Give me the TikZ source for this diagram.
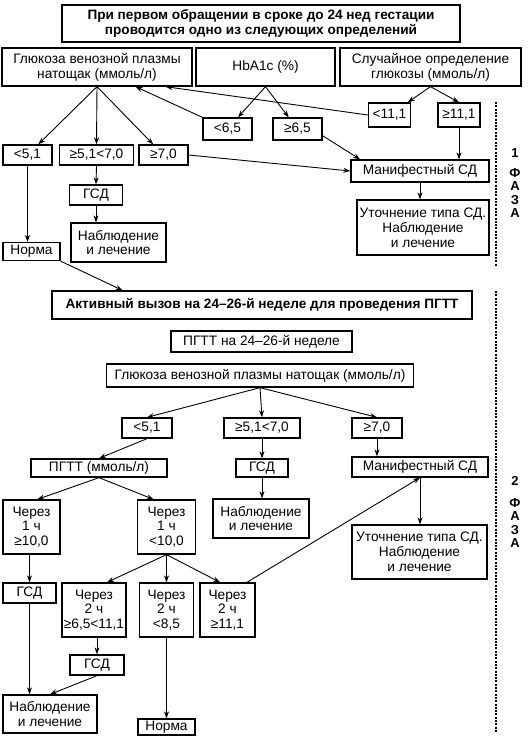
\documentclass[tikz,border=0pt]{standalone}
\usepackage{fontspec}
\setmainfont{Liberation Sans}
\usetikzlibrary{arrows.meta}

\begin{document}
\begin{tikzpicture}[x=1pt,y=-1pt]
% Стили
\tikzset{
  box/.style={rectangle, draw, line width=1.3pt, align=center, inner sep=0pt, font=\fontsize{13.7}{14.8}\selectfont},
  titlebox/.style={box, font=\bfseries\fontsize{13.6}{15.5}\selectfont},
  sz/.style 2 args={minimum width=#1, minimum height=#2},
  phase/.style={font=\bfseries\fontsize{13}{13.6}\selectfont, align=center, inner sep=0pt},
  arr/.style={-{Stealth[length=7pt,width=5pt]}, line width=0.9pt},
  sep/.style={line width=2.8pt, dash pattern=on 2pt off 1.3pt}
}
\useasboundingbox (0,0) rectangle (531,740);

% Фаза 1: первое обращение
\node[titlebox, sz={398}{37}] (t1) at (261,23.5) {При первом обращении в сроке до 24 нед гестации\\проводится одно из следующих определений};
\node[box, sz={190}{38}] (glu1) at (97,67) {Глюкоза венозной плазмы\\натощак (ммоль/л)};
\node[box, sz={139}{38}] (hba) at (265.5,67) {HbA1c (\%)};
\node[box, sz={181}{38}] (rnd) at (430.5,67) {Случайное определение\\глюкозы (ммоль/л)};
\node[box, sz={49}{22}] (lt65) at (227.5,129) {<6,5};
\node[box, sz={49}{22}] (ge65) at (297.5,129) {≥6,5};
\node[box, sz={42}{24}] (lt111) at (389.5,115) {<11,1};
\node[box, sz={42}{24}] (ge111) at (459,115) {≥11,1};
\node[box, sz={49}{20}] (lt51) at (27.5,155) {<5,1};
\node[box, sz={74}{20}] (mid1) at (96.5,155) {≥5,1<7,0};
\node[box, sz={49}{20}] (ge70) at (163.5,155) {≥7,0};
\node[box, sz={138}{22}] (man1) at (420,171) {Манифестный СД};
\node[box, sz={53}{20}] (gsd1) at (96,195) {ГСД};
\node[box, sz={95}{39}] (obs1) at (118.5,242.5) {Наблюдение\\и лечение};
\node[box, sz={57}{18}] (norm1) at (31.5,251.5) {Норма};
\node[box, sz={132}{55}] (spec1) at (423,227.5) {Уточнение типа СД.\\Наблюдение\\и лечение};

% Стрелки фазы 1
\draw[arr] (glu1.south) -- (lt51);
\draw[arr] (glu1.south) -- (mid1.north);
\draw[arr] (glu1.south) -- (ge70);
\draw[arr] (hba.south) -- (lt65);
\draw[arr] (hba.south) -- (ge65);
\draw[arr] (rnd.south) -- (lt111);
\draw[arr] (rnd.south) -- (ge111.north);
\draw[arr] (lt65.north west) -- (glu1.333);
\draw[arr] (lt111.west) -- (glu1.344);
\draw[arr] (ge65.-15) -- (man1.169);
\draw[arr] (ge111.south) -- (ge111.south |- man1.north);
\draw[arr] (ge70.east) -- (man1.west);
\draw[arr] (man1.south) -- (man1.south |- spec1.north);
\draw[arr] (mid1.south) -- (gsd1.north);
\draw[arr] (gsd1.south) -- (gsd1.south |- obs1.north);
\draw[arr] (lt51.south) -- (lt51.south |- norm1.north);

% Фаза 2: ПГТТ на 24-26-й неделе
\node[titlebox, sz={420}{28}] (t2) at (262,305) {Активный вызов на 24–26-й неделе для проведения ПГТТ};
\node[box, sz={181}{21}] (pgtt) at (261.5,341.5) {ПГТТ на 24–26-й неделе};
\node[box, sz={307}{23}] (glu2) at (260,375.5) {Глюкоза венозной плазмы натощак (ммоль/л)};
\node[box, sz={50}{20}] (lt51b) at (147,428) {<5,1};
\node[box, sz={76}{20}] (mid2) at (262,428) {≥5,1<7,0};
\node[box, sz={50}{20}] (ge70b) at (377,428) {≥7,0};
\node[box, sz={136}{18}] (pgttm) at (99,468) {ПГТТ (ммоль/л)};
\node[box, sz={52}{18}] (gsd2) at (262,468) {ГСД};
\node[box, sz={136}{20}] (man2) at (420,467) {Манифестный СД};
\node[box, sz={96}{39}] (obs2) at (261,518.5) {Наблюдение\\и лечение};
\node[box, sz={135}{54}] (spec2) at (419.5,552) {Уточнение типа СД.\\Наблюдение\\и лечение};
\node[box, sz={57}{54}] (h1a) at (31.5,527) {Через\\1 ч\\≥10,0};
\node[box, sz={58}{54}] (h1b) at (166.5,527) {Через\\1 ч\\<10,0};
\node[box, sz={53}{20}] (gsd3) at (29.5,593) {ГСД};
\node[box, sz={64}{54}] (h2a) at (94,610) {Через\\2 ч\\≥6,5<11,1};
\node[box, sz={54}{54}] (h2b) at (166.5,610) {Через\\2 ч\\<8,5};
\node[box, sz={55}{54}] (h2c) at (227.5,610) {Через\\2 ч\\≥11,1};
\node[box, sz={54}{20}] (gsd4) at (97,665) {ГСД};
\node[box, sz={94}{38}] (obs3) at (50,714) {Наблюдение\\и лечение};
\node[box, sz={57}{16}] (norm2) at (166.5,727) {Норма};

% Стрелки фазы 2
\draw[arr] (norm1.south east) -- (t2.174);
\draw[arr] (glu2.south) -- (lt51b.north);
\draw[arr] (glu2.south) -- (mid2.north);
\draw[arr] (glu2.south) -- (ge70b.north);
\draw[arr] (lt51b.south) -- (pgttm.north);
\draw[arr] (mid2.south) -- (gsd2.north);
\draw[arr] (ge70b.south) -- (ge70b.south |- man2.north);
\draw[arr] (gsd2.south) -- (gsd2.south |- obs2.north);
\draw[arr] (man2.south) -- (man2.south |- spec2.north);
\draw[arr] (pgttm.south) -- (h1a.78);
\draw[arr] (pgttm.south) -- (h1b.115);
\draw[arr] (gsd3.north |- h1a.south) -- (gsd3.north);
\draw[arr] (gsd3.south) -- (gsd3.south |- obs3.north);
\draw[arr] (h1b.south) -- (h2a.65);
\draw[arr] (h1b.south) -- (h2b.north);
\draw[arr] (h1b.south) -- (h2c.105);
\draw[arr] (h2c.55) -- (man2.south);
\draw[arr] (gsd4.north |- h2a.south) -- (gsd4.north);
\draw[arr] (gsd4.south) -- (obs3.north);
\draw[arr] (h2b.south) -- (norm2.north);

% Разделители фаз
\draw[sep] (496,102) -- (496,267);
\draw[sep] (496,291) -- (496,733);
\node[phase] (n1) at (515,153) {1};
\node[phase] (f1) at (515,193) {Ф\\А\\З\\А};
\node[phase] (n2) at (515,481) {2};
\node[phase] (f2) at (515,523) {Ф\\А\\З\\А};

\end{tikzpicture}
\end{document}
